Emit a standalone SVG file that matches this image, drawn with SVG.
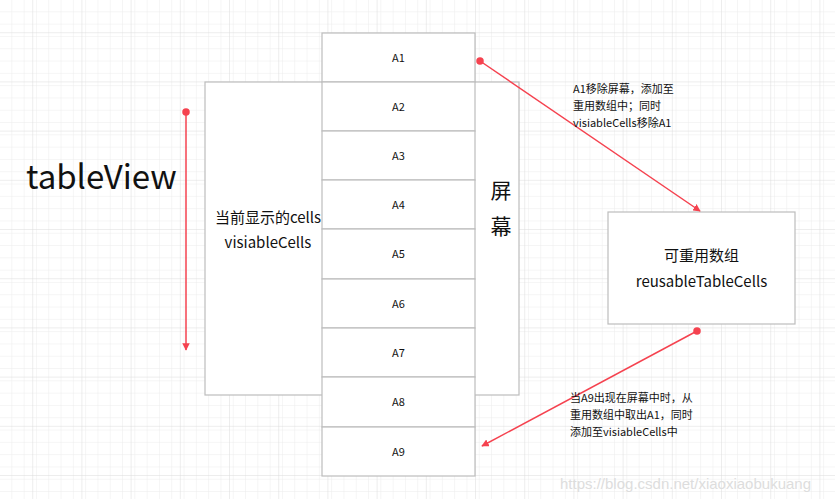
<svg xmlns="http://www.w3.org/2000/svg" width="835" height="499" viewBox="0 0 835 499">
<defs>
<pattern id="minor" width="12.3" height="12.3" patternUnits="userSpaceOnUse"><path d="M12.3 0V12.3H0" fill="none" stroke="#ececec" stroke-width="1"/></pattern>
<pattern id="major" width="49.2" height="49.2" patternUnits="userSpaceOnUse" x="-16" y="-16"><path d="M49.2 0V49.2H0" fill="none" stroke="#dcdcdc" stroke-width="1"/></pattern>
<marker id="tri" viewBox="0 0 10 10" refX="9" refY="5" markerWidth="5" markerHeight="5" orient="auto-start-reverse"><path d="M0 0L10 5L0 10Z" fill="#f5424f"/></marker>
<marker id="dot" viewBox="0 0 10 10" refX="5" refY="5" markerWidth="5" markerHeight="5"><circle cx="5" cy="5" r="5" fill="#f5424f"/></marker>
<style>
.box{fill:#fff;stroke:#bdbdbd;stroke-width:1.2}
.t{font-family:"Noto Sans CJK SC","Noto Sans",sans-serif;fill:#111}
.c{font-size:11px;text-anchor:middle}
.line{stroke:#f5424f;stroke-width:1.5;fill:none;marker-start:url(#dot);marker-end:url(#tri)}
</style>
</defs>
<rect width="835" height="499" fill="#fff"/>
<rect width="835" height="499" fill="url(#minor)"/>
<rect width="835" height="499" fill="url(#major)"/>
<g id="screen"><rect class="box" x="205" y="82" width="314" height="313"/>
<text class="t" x="268" y="223" font-size="15" text-anchor="middle">当前显示的cells</text>
<text class="t" x="268" y="248" font-size="15" text-anchor="middle">visiableCells</text>
<text class="t" x="501" y="198" font-size="21" text-anchor="middle">屏</text>
<text class="t" x="501" y="234" font-size="21" text-anchor="middle">幕</text></g>
<g id="cells">
<rect class="box" x="322" y="33" width="153" height="49"/><text class="t c" x="398.5" y="62">A1</text>
<rect class="box" x="322" y="82" width="153" height="49"/><text class="t c" x="398.5" y="111">A2</text>
<rect class="box" x="322" y="131" width="153" height="49"/><text class="t c" x="398.5" y="160">A3</text>
<rect class="box" x="322" y="180" width="153" height="49"/><text class="t c" x="398.5" y="209">A4</text>
<rect class="box" x="322" y="229" width="153" height="50"/><text class="t c" x="398.5" y="258">A5</text>
<rect class="box" x="322" y="279" width="153" height="49"/><text class="t c" x="398.5" y="308">A6</text>
<rect class="box" x="322" y="328" width="153" height="49"/><text class="t c" x="398.5" y="357">A7</text>
<rect class="box" x="322" y="377" width="153" height="50"/><text class="t c" x="398.5" y="406">A8</text>
<rect class="box" x="322" y="427" width="153" height="49"/><text class="t c" x="398.5" y="456">A9</text>
</g>
<g id="reusable"><rect class="box" x="608" y="212" width="187" height="112"/>
<text class="t" x="701.5" y="261" font-size="15" text-anchor="middle">可重用数组</text>
<text class="t" x="701.5" y="287" font-size="15" text-anchor="middle">reusableTableCells</text></g>
<g id="title"><text class="t" x="26" y="189" font-size="33">tableView</text></g>
<g id="connectors">
<path class="line" d="M186 112V350"/>
<path class="line" d="M480 61L700 211"/>
<path class="line" d="M697 331L482 446"/>
</g>
<g id="labels" class="t" font-size="11">
<text x="573" y="93">A1移除屏幕，添加至</text>
<text x="573" y="110">重用数组中；同时</text>
<text x="573" y="127">visiableCells移除A1</text>
<text x="570" y="402">当A9出现在屏幕中时，从</text>
<text x="570" y="419">重用数组中取出A1，同时</text>
<text x="570" y="436">添加至visiableCells中</text>
</g>
<text x="560" y="489" font-family="Liberation Sans,sans-serif" font-size="15" fill="#ddd">https://blog.csdn.net/xiaoxiaobukuang</text>
</svg>
